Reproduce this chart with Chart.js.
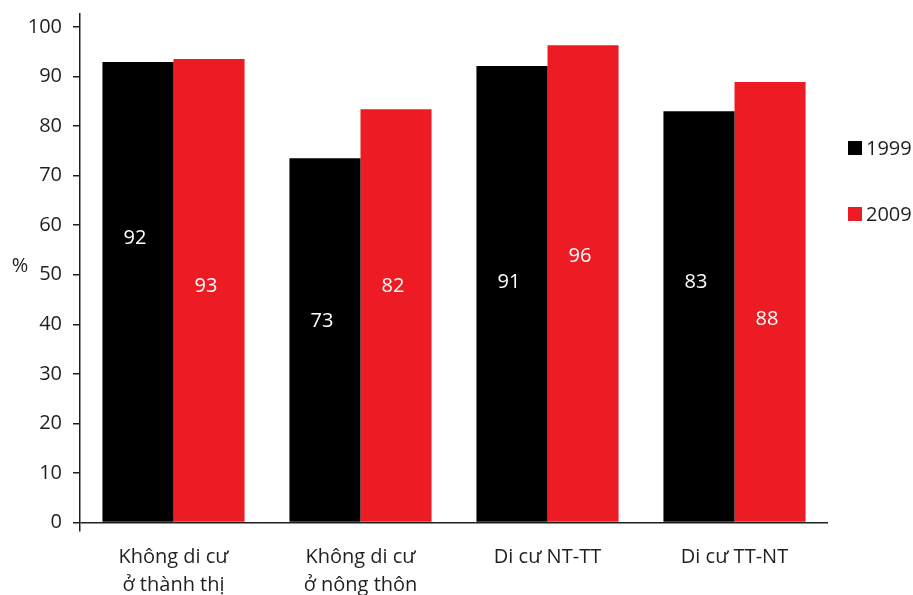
<!DOCTYPE html>
<html>
<head>
<meta charset="utf-8">
<script src="https://cdn.jsdelivr.net/npm/chart.js@4.4.0/dist/chart.umd.min.js"></script>
<style>
	html, body { margin: 0; padding: 0; background: #fff; }
	#wrap { width: 913px; height: 595px; }
</style>
</head>
<body>
<div id="wrap"><canvas id="chart" width="913" height="595"></canvas></div>
<script>
// data
var categories = [['Không di cư', 'ở thành thị'], ['Không di cư', 'ở nông thôn'], 'Di cư NT-TT', 'Di cư TT-NT'];
var seriesNames = ['1999', '2009'];
var values1999 = [92.9, 73.5, 92.1, 83.0];
var values2009 = [93.5, 83.4, 96.3, 88.9];
var text1999 = ['92', '73', '91', '83'];
var text2009 = ['93', '82', '96', '88'];
var yTicks = [0, 10, 20, 30, 40, 50, 60, 70, 80, 90, 100];
var yTitle = '%';

// where the value labels sit inside the bars (in % units, as in the original)
var labelAt = [[57.3, 40.6, 48.4, 48.4], [47.7, 47.7, 53.8, 41.0]];
var barLabels = [text1999, text2009];

var ink = '#231f20';
var colors = ['#000000', '#ed1c24'];
var font = { family: 'Open Sans', size: 20 };

var extras = {
	id: 'extras',
	afterDatasetsDraw: function (chart) {
		var ctx = chart.ctx;
		var y = chart.scales.y;
		ctx.save();
		ctx.font = '20px "Open Sans"';
		ctx.textAlign = 'center';
		ctx.textBaseline = 'middle';
		ctx.fillStyle = '#ffffff';
		for (var i = 0; i < chart.data.datasets.length; i++) {
			var meta = chart.getDatasetMeta(i);
			meta.data.forEach(function (bar, j) {
				ctx.fillText(barLabels[i][j], bar.x - 3, y.getPixelForValue(labelAt[i][j]));
			});
		}
		ctx.restore();
	},
	afterDraw: function (chart) {
		var ctx = chart.ctx;
		ctx.save();
		ctx.font = '20px "Open Sans"';
		ctx.textBaseline = 'middle';
		ctx.fillStyle = ink;
		// axis title, not rotated
		ctx.textAlign = 'center';
		ctx.fillText(yTitle, 20, 266);
		// legend on the right
		ctx.textAlign = 'left';
		chart.data.datasets.forEach(function (ds, i) {
			var cy = 148 + i * 66;
			ctx.fillStyle = ds.backgroundColor;
			ctx.fillRect(848, cy - 7, 14, 14);
			ctx.fillStyle = ink;
			ctx.fillText(ds.label, 866, cy + 1);
		});
		ctx.restore();
	}
};

var chartdata = {
	labels: categories,
	datasets: [
		{ label: seriesNames[0], data: values1999, backgroundColor: colors[0], barPercentage: 1, categoryPercentage: 0.76 },
		{ label: seriesNames[1], data: values2009, backgroundColor: colors[1], barPercentage: 1, categoryPercentage: 0.76 }
	]
};

var ctx = document.getElementById('chart').getContext('2d');
var BarGraph = new Chart(ctx, {
	type: 'bar',
	data: chartdata,
	plugins: [extras],
	options: {
		responsive: false,
		animation: false,
		layout: { padding: { top: 14, right: 85, left: 0, bottom: 0 } },
		plugins: { legend: { display: false }, tooltip: { enabled: false } },
		scales: {
			x: {
				grid: { display: false, drawTicks: false },
				border: { display: false },
				ticks: { padding: 12, color: ink, font: { family: 'Open Sans', size: 20, lineHeight: 1.4 }, maxRotation: 0 },
				afterFit: function (s) { s.height = 64; s.paddingLeft = 0; s.paddingRight = 0; }
			},
			y: {
				min: -1.7,
				max: 102.6,
				afterBuildTicks: function (s) { s.ticks = yTicks.map(function (v) { return { value: v }; }); },
				grid: {
					drawTicks: true,
					tickLength: 7,
					tickColor: ink,
					tickWidth: 1.5,
					lineWidth: 1.5,
					color: function (c) { return c.tick && c.tick.value === 0 ? ink : 'rgba(0,0,0,0)'; }
				},
				border: { display: true, color: ink, width: 1.5 },
				ticks: { padding: 11, color: ink, font: font },
				afterFit: function (s) { s.width = 80; s.paddingTop = 0; s.paddingBottom = 0; }
			}
		}
	}
});
</script>
</body>
</html>
